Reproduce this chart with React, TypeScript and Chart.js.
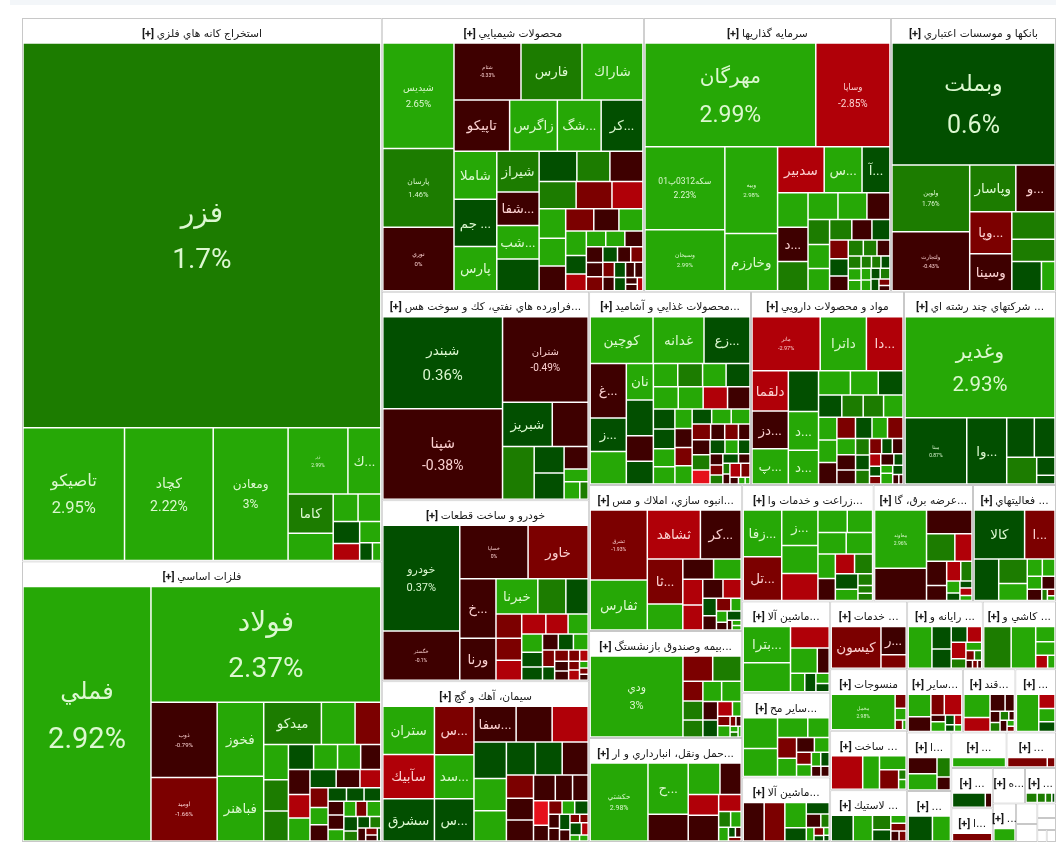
import React, { useEffect, useRef } from "react";
import { BarElement, Chart, DatasetController, registerables } from "chart.js";

// sectors, biggest first
const groupTitles = [
  "استخراج كانه هاي فلزي", "فلزات اساسي", "محصولات شيميايي", "سرمايه گذاريها", "بانكها و موسسات اعتباري",
  "فراورده هاي نفتي، كك و سوخت هس...", "خودرو و ساخت قطعات", "سيمان، آهك و گچ",
  "محصولات غذايي و آشاميد...", "مواد و محصولات دارويي", "شركتهاي چند رشته اي ...",
  "انبوه سازي، املاك و مس...", "بيمه وصندوق بازنشستگ...", "حمل ونقل، انبارداري و ار...",
  "زراعت و خدمات وا...", "عرضه برق، گا...", "فعاليتهاي ...",
  "ماشين آلا...", "ساير مح...", "ماشين آلا...",
  "خدمات ...", "رايانه و ...", "كاشي و ...",
  "منسوجات", "ساخت ...", "لاستيك ...",
  "ساير...", "قند...", "...",
  "ا...", "...", "...", "...", "...",
  "ا...", "ه...", "...", "...",
  "", "", "", "", "", "",
];
const groupSizes = [
  194400, 100300, 71300, 67200, 44900,
  43000, 37300, 33100,
  31100, 29400, 29200,
  22200, 16300, 15800,
  15200, 11500, 9600,
  8000, 7400, 5650,
  5200, 5100, 4950,
  4700, 4550, 3950,
  3500, 3300, 2550,
  2580, 2240, 1950, 1750, 1650,
  1390, 1130, 1090, 890,
  435, 380, 270, 220, 112, 112,
];

const g1Symbols = ["فزر", "تاصيكو", "كچاد", "ومعادن", "زر", "ك...", "كاما"];
const g1Sizes = [137830, 13300, 11600, 9770, 3840, 2080, 1680, 1150, 625, 570, 525, 400, 400, 190, 120];
const g1Changes = [1.7, 2.95, 2.22, 3, 2.99, 2.6, 1.5, 2.5, 2.5, 2.5, 0.5, -2.5, 2.5, 0.5, 2.5];

const g2Symbols = ["فملي", "فولاد", "ذوب", "اوميد", "فخوز", "فباهنر", "ميدكو"];
const g2Sizes = [32100, 26200, 4800, 4030, 3285, 2880, 2300, 1320, 1000, 800, 700, 670, 570, 540, 520, 450, 480, 450, 440, 420, 380, 330, 310, 270, 250, 210, 200, 190, 180, 190, 150, 150, 135, 175, 165, 110, 110, 100, 80, 60, 50, 30];
const g2Changes = [2.92, 2.37, -0.79, -1.66, 2.5, 2.5, 1.5, 2.5, -1.5, 2.5, 1.5, 1.5, 0.5, 2.5, 2.5, -0.5, -0.5, -2.5, 2.5, 0.5, -0.5, -2.5, -1.5, 2.5, -0.5, 0.5, 0.5, 0.5, -0.5, -0.5, 2.5, 2.5, -1.5, 2.5, 0.5, 1.5, 0.5, 1.5, -0.5, -1.5, -0.5, 0.5];

const g3Symbols = ["شيديس", "پارسان", "نوري", "شتام", "فارس", "شاراك", "تاپيكو", "زاگرس", "شگ...", "كر...", "شاملا", "جم ...", "پارس", "شيراز", "شفا...", "شب..."];
const g3Sizes = [7380, 5470, 4400, 3700, 3360, 3360, 2750, 2350, 2150, 2050, 1970, 1930, 1800, 1640, 1340, 1340, 1260, 1070, 930, 930, 940, 910, 780, 725, 675, 600, 567, 504, 480, 456, 340, 300, 270, 265, 250, 220, 200, 195, 190, 170, 155, 140, 130, 140, 120, 110, 100, 60, 55, 55];
const g3Changes = [2.65, 1.46, 0, -0.33, 1.5, 2.5, -0.5, 2.5, 2.5, 0.5, 2.5, 0.5, 2.5, 1.5, -0.5, 2.5, 0.5, 0.5, 1.5, -0.5, 1.5, -1.5, -2.5, 2.5, 2.5, -0.5, -1.5, -0.5, 2.5, 2.5, 0.5, -2.5, 2.5, 2.5, -0.5, -0.5, -0.5, -1.5, 0.5, -0.5, -1.5, -1.5, -0.5, 0.5, 0.5, -0.5, -0.5, -0.5, -0.5, -2.5];

const g4Symbols = ["مهرگان", "وساپا", "سكه0312پ01", "وسبحان", "وبيه", "وخارزم", "سدبير", "س...", "آ...", "", "د..."];
const g4Sizes = [17340, 7450, 6400, 4680, 4390, 2860, 2020, 1630, 1190, 960, 960, 810, 725, 700, 550, 480, 460, 420, 400, 360, 320, 300, 280, 230, 200, 180, 170, 130, 120, 105, 100, 90, 85, 90, 80, 75, 80, 70, 50, 40];
const g4Changes = [2.99, -2.85, 2.23, 2.99, 2.98, 2.5, -2.5, 2.5, 0.5, 2.5, -0.5, 1.5, 2.5, 2.5, -0.5, 1.5, 2.5, 2.5, 1.5, -0.5, 0.5, -1.5, 0.5, -0.5, 1.5, 1.5, -0.5, 1.5, 2.5, 2.5, 1.5, 1.5, 0.5, 2.5, 2.5, 0.5, 1.5, 0.5, -1.5, -0.5];

const g5Symbols = ["وبملت", "ولوين", "ولتجارت", "وپاسار", "و...", "وپا...", "وسينا"];
const g5Sizes = [19800, 5080, 4470, 2070, 1750, 1680, 1480, 1110, 900, 800, 350];
const g5Changes = [0.6, 1.76, -0.43, 1.5, -0.5, -1.5, -0.5, 1.5, 1.5, 0.5, 2.5];

const g6Symbols = ["شبندر", "شپنا", "شتران", "شبريز"];
const g6Sizes = [10900, 10700, 7200, 2100, 1500, 1590, 730, 730, 490, 265, 240, 120];
const g6Changes = [0.36, -0.38, -0.49, 0.5, -0.5, 1.5, 0.5, 0.5, -0.5, 2.5, 2.5, 1.5];

const g7Symbols = ["خودرو", "خگستر", "خساپا", "خاور", "خ...", "ورنا", "خبرنا"];
const g7Sizes = [7750, 3570, 3420, 3000, 2000, 1400, 1350, 890, 700, 550, 500, 450, 420, 385, 345, 325, 260, 230, 210, 200, 195, 165, 130, 125, 105, 100, 95, 70, 70, 85, 40, 35, 35];
const g7Changes = [0.37, -0.1, 0, -1.5, -0.5, -0.5, 2.5, 1.5, 0.5, -1.5, -1.5, -2.5, -2.5, -2.5, 2.5, 2.5, 0.5, 0.5, -0.5, 0.5, 2.5, -1.5, 0.5, -1.5, -0.5, -0.5, -1.5, -2.5, -1.5, -2.5, 2.5, -1.5, -0.5];

const g8Symbols = ["ستران", "سآبيك", "سشرق", "س...", "سد...", "س...", "سفا..."];
const g8Sizes = [2350, 2150, 2050, 1790, 1630, 1560, 1400, 1190, 1190, 1085, 960, 900, 870, 800, 775, 570, 520, 510, 500, 390, 350, 320, 200, 150, 140, 150, 120, 110, 130, 90, 60, 50, 110, 60, 40, 35];
const g8Changes = [2.5, -2.5, 0.5, -1.5, 2.5, 0.5, -0.5, -0.5, -2.5, 0.5, 2.5, 2.5, 0.5, 0.5, -0.5, -1.5, -0.5, -0.5, -0.5, -0.5, -0.5, -3.5, -0.5, -1.5, 2.5, 0.5, -0.5, -0.5, 0.5, -0.5, -1.5, -1.5, 0.5, -2.5, 2.5, 2.5];

const g9Symbols = ["كوچين", "غدانه", "زع...", "غ...", "ز...", "", "نان"];
const g9Sizes = [2790, 2250, 2025, 1855, 1120, 1085, 910, 885, 620, 550, 510, 520, 490, 500, 490, 490, 480, 440, 380, 370, 340, 320, 290, 280, 270, 270, 250, 250, 240, 250, 185, 180, 150, 225, 230, 210, 170, 150, 130, 115, 100, 90, 120, 85, 55, 50, 120, 100, 40, 30, 20];
const g9Changes = [2.5, 2.5, 0.5, -0.5, 0.5, 2.5, 2.5, 0.5, -0.5, 0.5, 2.5, 1.5, 2.5, 0.5, 2.5, 2.5, -2.5, -0.5, 0.5, 0.5, 2.5, 2.5, 2.5, -0.5, -1.5, 2.5, 0.5, 2.5, 2.5, -1.5, -0.5, -1.5, -0.5, -0.5, 1.5, -3.5, 0.5, 2.5, 0.5, -0.5, -1.5, 1.5, 0.5, -0.5, 1.5, -0.5, -2.5, -1.5, -0.5, 2.5, 2.5];

const g10Symbols = ["مانر", "داترا", "دا...", "دلقما", "دز...", "پ...", "", "د...", "د..."];
const g10Sizes = [3500, 2350, 1850, 1350, 1260, 1180, 1130, 1070, 930, 690, 600, 530, 460, 420, 400, 380, 360, 360, 340, 340, 300, 280, 280, 255, 240, 220, 190, 170, 160, 150, 130, 130, 110, 85, 65, 120, 80, 70, 100, 70, 40, 25];
const g10Changes = [-2.97, 2.5, -2.5, -2.5, -0.5, 2.5, 0.5, 2.5, 2.5, 2.5, 2.5, 0.5, 0.5, 1.5, 1.5, 2.5, 2.5, 2.5, -0.5, -1.5, 0.5, 2.5, -1.5, 2.5, -0.5, -0.5, 1.5, 0.5, 1.5, -1.5, 0.5, -0.5, -2.5, 0.5, -1.5, -0.5, 0.5, 2.5, 2.5, 0.5, -0.5, -0.5];

const g11Symbols = ["وغدير", "مبنا", "وا..."];
const g11Sizes = [14750, 3900, 2500, 1000, 740, 725, 280, 130];
const g11Changes = [2.93, 0.87, 0.5, 0.5, 0.5, 1.5, 0.5, 0.5];

const g12Symbols = ["ثشرق", "ثفارس", "ثشاهد", "كر...", "ثا..."];
const g12Sizes = [3740, 2640, 2400, 1830, 1460, 820, 550, 490, 440, 430, 325, 290, 195, 155, 145, 100, 90, 60, 100, 30, 30, 25];
const g12Changes = [-1.93, 2.5, -2.5, -0.5, -1.5, 2.5, -0.5, 2.5, -2.5, -2.5, -0.5, -2.5, 0.5, -0.5, -1.5, 2.5, 2.5, -0.5, 0.5, -0.5, 2.5, 2.5];

const g13Symbols = ["ودي"];
const g13Sizes = [7200, 670, 640, 340, 325, 290, 325, 340, 230, 210, 180, 100, 90, 110, 40, 35, 30, 25, 20];
const g13Changes = [3, -1.5, 1.5, -1.5, 1.5, 1.5, 2.5, 2.5, -0.5, 0.5, -2.5, 2.5, -1.5, 2.5, -1.5, -0.5, 2.5, 1.5, 2.5];

const g14Symbols = ["حكشتي", "ح..."];
const g14Sizes = [4260, 1910, 975, 900, 590, 560, 700, 330, 150, 130, 105, 50, 40, 30];
const g14Changes = [2.98, 2.5, -0.5, 2.5, -0.5, -2.5, -0.5, -2.5, 1.5, 2.5, 2.5, 0.5, -0.5, -1.5];

const g15Symbols = ["زفا...", "تل...", "ز..."];
const g15Sizes = [1590, 1480, 1120, 875, 840, 560, 480, 510, 475, 350, 310, 310, 290, 280, 200, 130, 80, 75];
const g15Changes = [2.5, -1.5, 2.5, 2.5, -2.5, 2.5, 2.5, 2.5, 2.5, 2.5, -0.5, -2.5, 1.5, 0.5, 2.5, 1.5, 1.5, 1.5];

const g16Symbols = ["معاوند"];
const g16Sizes = [2800, 1510, 970, 680, 400, 420, 250, 230, 180, 125, 70, 60, 65, 40];
const g16Changes = [2.96, -0.5, -0.5, 1.5, -2.5, -0.5, -0.5, -2.5, 1.5, 2.5, 0.5, 0.5, -2.5, 2.5];

const g17Symbols = ["كالا", "ا..."];
const g17Sizes = [2200, 1300, 880, 590, 400, 205, 170, 145, 120, 130, 40, 30, 20];
const g17Changes = [0.5, -1.5, 0.5, 1.5, 2.5, 2.5, 2.5, 2.5, -0.5, -0.5, 1.5, -1.5, 2.5];

const g18Symbols = ["بترا..."];
const g18Sizes = [1520, 1200, 720, 570, 240, 210, 160, 100, 80];
const g18Changes = [2.5, 2.5, -2.5, 2.5, -0.5, 2.5, 0.5, 2.5, 0.5];

const g19Sizes = [950, 860, 520, 360, 340, 290, 220, 180, 145, 140, 100, 90, 70, 60];
const g19Changes = [2.5, 2.5, 2.5, 2.5, -1.5, 2.5, -0.5, 2.5, -1.5, 2.5, 2.5, 0.5, -0.5, -0.5];

const g20Sizes = [790, 780, 520, 260, 240, 175, 95, 85, 60, 40, 30, 20];
const g20Changes = [-0.5, -1.5, 2.5, 0.5, 0.5, -0.5, 1.5, 2.5, -1.5, 0.5, 2.5, 0.5];

const g21Symbols = ["كيسون", "ر..."];
const g21Sizes = [1880, 620, 280];
const g21Changes = [-1.5, -0.5, -1.5];

const g22Sizes = [900, 375, 320, 210, 190, 200, 110, 100, 60, 50, 35, 25, 20];
const g22Changes = [2.5, 0.5, 0.5, 0.5, -2.5, -2.5, 1.5, 2.5, -1.5, 1.5, -0.5, -1.5, -0.5];

const g23Sizes = [1100, 980, 260, 230, 130, 75];
const g23Changes = [1.5, 2.5, 2.5, 2.5, -2.5, 2.5];

const g24Symbols = ["مخمل"];
const g24Sizes = [2030, 115, 95, 50, 20];
const g24Changes = [2.98, -1.5, 2.5, -1.5, 2.5];

const g25Sizes = [930, 480, 310, 310, 50, 50];
const g25Changes = [-2.5, 2.5, 2.5, -1.5, 1.5, 2.5];

const g26Sizes = [500, 435, 220, 170, 95, 90, 60, 50];
const g26Changes = [0.5, 2.5, 1.5, 0.5, 2.5, -1.5, -0.5, -1.5];

const g27Sizes = [520, 330, 270, 360, 85, 130, 75, 60, 50, 40];
const g27Changes = [2.5, -0.5, -1.5, -2.5, -0.5, 2.5, 0.5, -2.5, 0.5, 2.5];

const g28Sizes = [560, 330, 220, 130, 90, 70, 60, 35, 60, 30, 25];
const g28Changes = [2.5, -2.5, -0.5, -0.5, -0.5, 1.5, 1.5, -0.5, -0.5, 2.5, -1.5];

const g29Sizes = [770, 195, 180, 130];
const g29Changes = [2.5, -2.5, 2.5, 0.5];

const g30Sizes = [350, 350, 185, 120];
const g30Changes = [-0.5, 2.5, 1.5, -0.5];

const g31Sizes = [550, 400];
const g31Changes = [0.5, 2.5];

const g32Sizes = [600];
const g32Changes = [2.5];

const g33Sizes = [480, 80];
const g33Changes = [-1.5, -1.5];

const g34Sizes = [470, 80];
const g34Changes = [0.5, -0.5];

const g35Sizes = [200];
const g35Changes = [-1.5];

const g37Sizes = [50, 35, 25, 10];
const g37Changes = [1.5, 1.5, 1.5, 0.5];

const g38Sizes = [30];
const g38Changes = [2.5];

// symbols that also print their percent under the name
const symbolsWithPercent = [
  "فزر", "تاصيكو", "كچاد", "ومعادن", "زر", "فملي", "فولاد", "ذوب", "اوميد", "شيديس", "پارسان", "نوري", "شتام",
  "مهرگان", "وساپا", "سكه0312پ01", "وسبحان", "وبيه", "وبملت", "ولوين", "ولتجارت", "شبندر", "شپنا", "شتران",
  "خودرو", "خگستر", "خساپا", "مانر", "وغدير", "مبنا", "ثشرق", "ودي", "حكشتي", "معاوند", "مخمل",
];

const groupCells: [string[], number[], number[]][] = [
  [g1Symbols, g1Sizes, g1Changes], [g2Symbols, g2Sizes, g2Changes], [g3Symbols, g3Sizes, g3Changes],
  [g4Symbols, g4Sizes, g4Changes], [g5Symbols, g5Sizes, g5Changes], [g6Symbols, g6Sizes, g6Changes],
  [g7Symbols, g7Sizes, g7Changes], [g8Symbols, g8Sizes, g8Changes], [g9Symbols, g9Sizes, g9Changes],
  [g10Symbols, g10Sizes, g10Changes], [g11Symbols, g11Sizes, g11Changes], [g12Symbols, g12Sizes, g12Changes],
  [g13Symbols, g13Sizes, g13Changes], [g14Symbols, g14Sizes, g14Changes], [g15Symbols, g15Sizes, g15Changes],
  [g16Symbols, g16Sizes, g16Changes], [g17Symbols, g17Sizes, g17Changes], [g18Symbols, g18Sizes, g18Changes],
  [[], g19Sizes, g19Changes], [[], g20Sizes, g20Changes], [g21Symbols, g21Sizes, g21Changes],
  [[], g22Sizes, g22Changes], [[], g23Sizes, g23Changes], [g24Symbols, g24Sizes, g24Changes],
  [[], g25Sizes, g25Changes], [[], g26Sizes, g26Changes], [[], g27Sizes, g27Changes],
  [[], g28Sizes, g28Changes], [[], g29Sizes, g29Changes], [[], g30Sizes, g30Changes],
  [[], g31Sizes, g31Changes], [[], g32Sizes, g32Changes], [[], g33Sizes, g33Changes],
  [[], g34Sizes, g34Changes], [[], g35Sizes, g35Changes], [[], [], []],
  [[], g37Sizes, g37Changes], [[], g38Sizes, g38Changes],
];

// ---- drawing settings ----
const SPACE_W = 1034;
const SPACE_H = 824;
const HEADER_H = 25;
const CELL_GAP = 1.3;

// label font px by symbol, anything else uses DEFAULT_LABEL_PX
const DEFAULT_LABEL_PX = 13.5;
const labelPx: Record<string, number> = {
  "فزر": 28, "تاصيكو": 16.5, "كچاد": 14, "ومعادن": 12, "زر": 5, "فملي": 29, "فولاد": 28, "ذوب": 6, "اوميد": 6,
  "شيديس": 9.5, "پارسان": 7.5, "نوري": 6, "شتام": 5, "مهرگان": 23, "وساپا": 10, "سكه0312پ01": 8.5, "وسبحان": 6,
  "وبيه": 6, "وبملت": 25, "ولوين": 6.5, "ولتجارت": 5.5, "شبندر": 15, "شپنا": 14, "شتران": 10, "خودرو": 11,
  "خگستر": 5, "خساپا": 5, "مانر": 5.5, "وغدير": 20.5, "مبنا": 5, "ثشرق": 5, "ودي": 11, "حكشتي": 7, "معاوند": 5, "مخمل": 5,
};
// a few names run narrower than their percent
const namePx: Record<string, number> = { "مهرگان": 20, "فملي": 24, "وبملت": 22, "شبندر": 13.5, "وساپا": 8.7 };

function changeColor(v: number) {
  if (v >= 2) return "#26a806";
  if (v >= 1) return "#1c7c00";
  if (v > 0) return "#024f00";
  if (v > -1) return "#3e0000";
  if (v > -2) return "#7c0000";
  if (v > -3) return "#b00008";
  return "#e5101b";
}

type Box = { x0: number; y0: number; x1: number; y1: number };

// squarified treemap, keeps the order it is given
function squarify(values: number[], box: Box): Box[] {
  const out: Box[] = [];
  const total = values.reduce((a, b) => a + b, 0);
  if (!total) return out;
  let { x0, y0 } = box;
  let w = box.x1 - box.x0;
  let h = box.y1 - box.y0;
  const k = (w * h) / total;
  const worst = (sum: number, lo: number, hi: number, side: number) =>
    Math.max((side * side * hi) / (sum * sum), (sum * sum) / (side * side * lo));
  let i = 0;
  while (i < values.length) {
    const side = Math.min(w, h);
    let j = i;
    let sum = 0;
    let lo = Infinity;
    let hi = 0;
    let best = Infinity;
    while (j < values.length) {
      const a = values[j] * k;
      const r = worst(sum + a, Math.min(lo, a), Math.max(hi, a), side);
      if (r > best) break;
      best = r;
      sum += a;
      lo = Math.min(lo, a);
      hi = Math.max(hi, a);
      j++;
    }
    if (w >= h) {
      const cw = sum / h;
      let y = y0;
      for (let n = i; n < j; n++) {
        const ch = (values[n] * k) / cw;
        out.push({ x0, y0: y, x1: x0 + cw, y1: y + ch });
        y += ch;
      }
      x0 += cw;
      w -= cw;
    } else {
      const ch = sum / w;
      let x = x0;
      for (let n = i; n < j; n++) {
        const cw = (values[n] * k) / ch;
        out.push({ x0: x, y0, x1: x + cw, y1: y0 + ch });
        x += cw;
      }
      y0 += ch;
      h -= ch;
    }
    i = j;
  }
  return out;
}

const groupBoxes = squarify(groupSizes, { x0: 0, y0: 0, x1: SPACE_W, y1: SPACE_H });
const cellBoxes: Box[] = [];
const cellColors: string[] = [];
const cellLabels: { symbol: string; change: number }[] = [];
groupBoxes.forEach((g, gi) => {
  const cells = groupCells[gi];
  if (!cells || !cells[1].length) return;
  const inner = { x0: g.x0 + 1, y0: g.y0 + HEADER_H, x1: g.x1 - 1, y1: g.y1 - 1 };
  const weights = cells[1].map((s) => (Math.sqrt(s) + CELL_GAP) ** 2);
  squarify(weights, inner).forEach((b, ci) => {
    cellBoxes.push(b);
    cellColors.push(changeColor(cells[2][ci]));
    cellLabels.push({ symbol: cells[0][ci] || "", change: cells[2][ci] });
  });
});

// chart.js has no treemap type, so a small controller that feeds bar elements
class TreemapController extends DatasetController {
  static id = "treemap";
  static defaults = { dataElementType: "bar", datasetElementType: false };
  static overrides = { scales: { x: { type: "linear" }, y: { type: "linear" } } };

  update(mode: any) {
    const meta = this._cachedMeta;
    this.updateElements(meta.data, 0, meta.data.length, mode);
  }

  updateElements(rects: any[], start: number, count: number, mode: any) {
    const { xScale, yScale } = this._cachedMeta;
    const data = this.getDataset().data as Box[];
    for (let i = start; i < start + count; i++) {
      const b = data[i];
      const left = xScale.getPixelForValue(b.x0);
      const right = xScale.getPixelForValue(b.x1);
      this.updateElement(
        rects[i],
        i,
        {
          x: (left + right) / 2,
          y: yScale.getPixelForValue(b.y0),
          base: yScale.getPixelForValue(b.y1),
          width: right - left,
          height: yScale.getPixelForValue(b.y1) - yScale.getPixelForValue(b.y0),
          horizontal: false,
          inflateAmount: 0,
          enableBorderRadius: false,
          borderSkipped: { top: false, bottom: false, left: false, right: false },
          options: this.resolveDataElementOptions(i, mode),
        },
        "none"
      );
    }
  }
}

Chart.register(...registerables, TreemapController as any, BarElement);

const textPlugin = {
  id: "treemapText",
  beforeDraw(chart: any) {
    const { ctx } = chart;
    ctx.save();
    ctx.fillStyle = "#f3f6f9";
    ctx.fillRect(10, 0, 1046, 5);
    ctx.restore();
  },
  afterDatasetsDraw(chart: any) {
    const { ctx } = chart;
    const cells = chart.getDatasetMeta(0).data;
    const groups = chart.getDatasetMeta(1).data;
    ctx.save();
    ctx.direction = "ltr";
    ctx.textBaseline = "middle";
    ctx.textAlign = "left";

    // headers: bold [+] then the title
    groups.forEach((g: any, i: number) => {
      if (i >= groupCells.length) return;
      const title = groupTitles[i];
      const boldFont = "bold 11px Roboto";
      const font = "10.7px 'DejaVu Sans', Roboto";
      ctx.font = boldFont;
      const plus = "[+]";
      const pw = ctx.measureText(plus + " ").width;
      ctx.font = font;
      const tw = ctx.measureText(title).width;
      const left = g.x - (pw + tw) / 2;
      const cy = g.y + 16;
      ctx.fillStyle = "#1a1a1a";
      ctx.font = boldFont;
      ctx.fillText(plus, left, cy);
      ctx.font = font;
      ctx.fillText(title, left + pw, cy);
    });

    ctx.textAlign = "center";
    cells.forEach((c: any, i: number) => {
      const { symbol, change } = cellLabels[i];
      if (!symbol) return;
      const px = labelPx[symbol] || DEFAULT_LABEL_PX;
      const cy = (c.y + c.base) / 2 + px * 0.1;
      ctx.fillStyle = change > 0 ? "#dcf8d0" : "#fbd0d0";
      if (symbolsWithPercent.includes(symbol)) {
        ctx.font = `${namePx[symbol] || px}px Roboto, 'DejaVu Sans'`;
        ctx.fillText(symbol, c.x, cy - px * 0.82);
        ctx.font = `${px}px Roboto, 'DejaVu Sans'`;
        ctx.fillText(`${change}%`, c.x, cy + px * 0.82);
      } else {
        ctx.font = `${px}px Roboto, 'DejaVu Sans'`;
        ctx.fillText(symbol, c.x, cy);
      }
    });
    ctx.restore();
  },
};

export default function App() {
  const canvasRef = useRef<HTMLCanvasElement>(null);

  useEffect(() => {
    if (!canvasRef.current) return;
    const chart = new Chart(canvasRef.current, {
      type: "treemap" as any,
      data: {
        datasets: [
          {
            data: cellBoxes as any,
            backgroundColor: cellColors,
            borderColor: "#ffffff",
            borderWidth: 0.75,
            parsing: false,
          } as any,
          {
            data: groupBoxes as any,
            backgroundColor: "#ffffff",
            borderColor: "#c8c8c8",
            borderWidth: 1,
            parsing: false,
          } as any,
        ],
      },
      options: {
        responsive: false,
        animation: false,
        devicePixelRatio: 1,
        events: [],
        layout: { padding: { left: 22, top: 18, right: 0, bottom: 23 } },
        scales: {
          x: { type: "linear", display: false, min: 0, max: SPACE_W },
          y: { type: "linear", display: false, min: 0, max: SPACE_H, reverse: true },
        },
        plugins: { legend: { display: false }, tooltip: { enabled: false } },
      } as any,
      plugins: [textPlugin],
    });
    return () => chart.destroy();
  }, []);

  return (
    <div style={{ position: "absolute", left: 0, top: 0, width: 1056, height: 865, background: "#fff" }}>
      <canvas ref={canvasRef} width={1056} height={865} style={{ display: "block" }} />
    </div>
  );
}
